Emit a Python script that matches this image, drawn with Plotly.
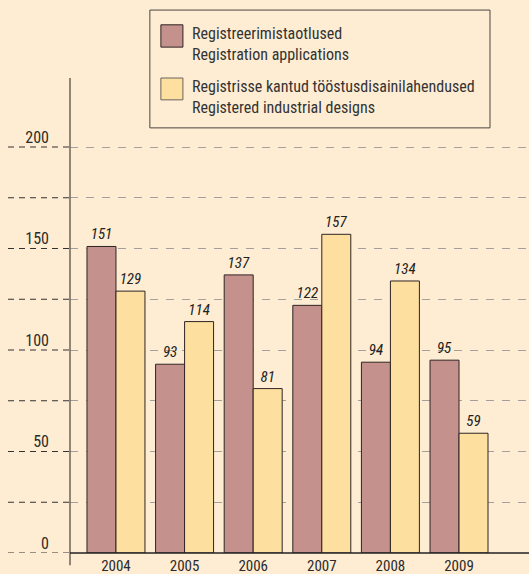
import plotly.graph_objects as go

years = ["2004", "2005", "2006", "2007", "2008", "2009"]
applications = [151, 93, 137, 122, 94, 95]
designs = [129, 114, 81, 157, 134, 59]
grid_vals = [0, 25, 50, 75, 100, 125, 150, 175, 200]
grid_text = ["0", "", "50", "", "100", "", "150", "", "200"]
legend_lines = [
    ["Registreerimistaotlused", "Registration applications"],
    ["Registrisse kantud tööstusdisainilahendused", "Registered industrial designs"],
]

FONT = "Liberation Sans Narrow, Roboto Condensed, Arial Narrow, Liberation Sans, sans-serif"
BG = "#FEEDD3"
PINK = "#C4918D"
YEL = "#FDDFA0"
EDGE = "#2e2424"
TXT = "#2b2b2b"

fig = go.Figure()
for name, vals, col in [(legend_lines[0][1], applications, PINK), (legend_lines[1][1], designs, YEL)]:
    fig.add_trace(go.Bar(
        x=years, y=vals, name=name,
        marker=dict(color=col, line=dict(color=EDGE, width=1)),
        text=[str(v) for v in vals], textposition="outside",
        textfont=dict(family=FONT, size=15, color="#222", style="italic"),
        cliponaxis=False,
    ))

shapes = []
for v in grid_vals:
    shapes.append(dict(type="line", xref="paper", yref="y", x0=-62/459, x1=0, y0=v, y1=v,
                       line=dict(color="#333", width=1.2, dash="6px,5px")))
shapes.append(dict(type="line", xref="paper", yref="paper", x0=0, x1=0, y0=-0.026, y1=1,
                   line=dict(color="#6b625a", width=1.5)))
shapes.append(dict(type="line", xref="paper", yref="paper", x0=0, x1=1, y0=0, y1=0,
                   line=dict(color="#222", width=1.5)))
shapes.append(dict(type="rect", xref="paper", yref="paper", x0=0.174, x1=0.915, y0=0.895, y1=1.143,
                   line=dict(color="#4a4440", width=1), fillcolor="rgba(0,0,0,0)"))
shapes.append(dict(type="rect", xref="paper", yref="paper", x0=0.198, x1=0.246, y0=1.065, y1=1.112,
                   line=dict(color=EDGE, width=1), fillcolor=PINK))
shapes.append(dict(type="rect", xref="paper", yref="paper", x0=0.198, x1=0.246, y0=0.954, y1=1.0,
                   line=dict(color="#6b625a", width=1), fillcolor=YEL))

annotations = []
for lines, yc in zip(legend_lines, [1.072, 0.960]):
    annotations.append(dict(xref="paper", yref="paper", x=0.261, y=yc, xanchor="left", yanchor="middle",
                            text="<br>".join(lines), showarrow=False, align="left",
                            font=dict(family=FONT, size=16, color="#333")))

fig.update_layout(
    width=529, height=574,
    margin=dict(l=70, r=0, t=78, b=21, autoexpand=False),
    paper_bgcolor=BG, plot_bgcolor=BG,
    barmode="group", bargap=0.155, bargroupgap=0,
    showlegend=False,
    shapes=shapes, annotations=annotations,
    font=dict(family=FONT, color=TXT),
    xaxis=dict(type="category", range=[-0.67, 6.02], showgrid=False, showline=False, ticks="",
               automargin=False,
               tickfont=dict(family=FONT, size=15, color=TXT), ticklabelstandoff=2),
    yaxis=dict(range=[0, 234], tickvals=grid_vals, ticktext=grid_text, showline=False, zeroline=False,
               automargin=False,
               showgrid=True, gridcolor="#a3a09c", griddash="8px,8px", gridwidth=1,
               tickfont=dict(family=FONT, size=16, color=TXT), ticks="",
               ticklabelshift=-10, ticklabelstandoff=20),
)

fig.write_html("out.html", config={"displayModeBar": False})

with open("out.html", "r", encoding="utf-8") as f:
    html = f.read()
html = html.replace("<head>", "<head><style>html,body{margin:0;padding:0;overflow:hidden;background:%s}</style>" % BG, 1)
with open("out.html", "w", encoding="utf-8") as f:
    f.write(html)
